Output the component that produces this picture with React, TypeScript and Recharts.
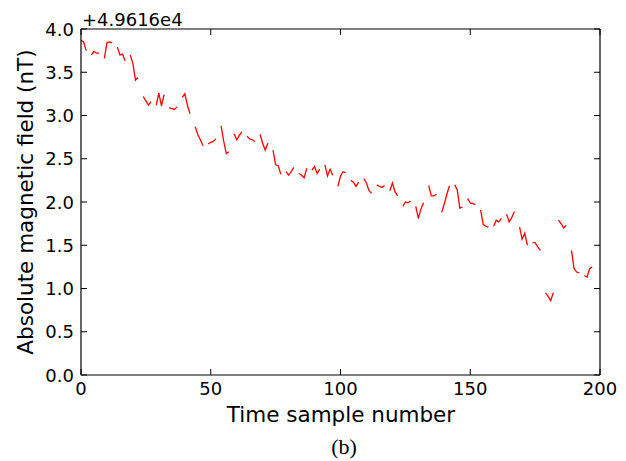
import React from "react";
import { LineChart, Line, XAxis, YAxis } from "recharts";

// Absolute magnetic field offset (nT) from 4.9616e4, per time sample; null = missing sample
const fieldOffset: (number | null)[] = [
  3.87, 3.85, 3.75, null, 3.70, 3.74, 3.72, 3.72, null, 3.66,
  3.84, 3.85, 3.84, null, 3.79, 3.70, 3.71, 3.63, null, 3.70,
  3.60, 3.41, 3.44, null, 3.22, 3.17, 3.12, 3.16, null, 3.12,
  3.26, 3.11, 3.24, null, 3.09, 3.08, 3.07, 3.10, null, 3.21,
  3.25, 3.12, 3.02, null, 2.87, 2.78, 2.72, 2.65, null, 2.67,
  2.69, 2.70, 2.73, null, 2.88, 2.70, 2.56, 2.58, null, 2.79,
  2.72, 2.77, 2.81, null, 2.76, 2.73, 2.72, 2.70, null, 2.78,
  2.68, 2.60, 2.68, null, 2.60, 2.43, 2.42, 2.32, null, 2.35,
  2.31, 2.35, 2.40, null, 2.33, 2.31, 2.28, 2.39, null, 2.37,
  2.41, 2.33, 2.38, null, 2.43, 2.30, 2.38, 2.31, null, 2.18,
  2.30, 2.35, 2.34, null, 2.25, 2.23, 2.18, 2.23, null, 2.27,
  2.22, 2.13, 2.10, null, 2.20, 2.18, 2.17, 2.19, null, 2.13,
  2.22, 2.12, 2.07, null, 1.95, 2.00, 1.99, 2.01, null, 1.95,
  1.81, 1.92, 1.99, null, 2.19, 2.07, 2.07, 2.09, null, 1.88,
  1.98, 2.09, 2.19, null, 2.20, 2.14, 1.93, 1.94, null, 2.04,
  1.99, 1.98, 1.97, null, 1.91, 1.74, 1.72, 1.71, null, 1.72,
  1.79, 1.77, 1.81, null, 1.86, 1.77, 1.82, 1.89, null, 1.71,
  1.57, 1.64, 1.50, null, 1.53, 1.53, 1.48, 1.44, null, 0.95,
  0.91, 0.86, 0.95, null, 1.79, 1.75, 1.70, 1.73, null, 1.44,
  1.23, 1.19, 1.18, null, 1.15, 1.13, 1.23, 1.25, null, null,
];

const xTicks = [0, 50, 100, 150, 200];
const yTicks = [0, 0.5, 1.0, 1.5, 2.0, 2.5, 3.0, 3.5, 4.0];
const offsetLabel = "+4.9616e4";
const xTitle = "Time sample number";
const yTitle = "Absolute magnetic field (nT)";
const caption = "(b)";

const data = fieldOffset.map((v, i) => ({ t: i, v }));

const FONT = "'DejaVu Sans', sans-serif";
const TICK_LEN = 6;

const BottomTick = (props: any) => {
  const { x, y, payload } = props;
  return (
    <g>
      <line x1={x} x2={x} y1={y} y2={y - TICK_LEN} stroke="#000" strokeWidth={1} />
      <text x={x} y={y + 20} textAnchor="middle" fontSize={18} fontFamily={FONT} fill="#000">
        {payload.value}
      </text>
    </g>
  );
};

const TopTick = (props: any) => {
  const { x, y } = props;
  return <line x1={x} x2={x} y1={y} y2={y + TICK_LEN} stroke="#000" strokeWidth={1} />;
};

const LeftTick = (props: any) => {
  const { x, y, payload } = props;
  return (
    <g>
      <line x1={x} x2={x + TICK_LEN} y1={y} y2={y} stroke="#000" strokeWidth={1} />
      <text x={x - 7} y={y} textAnchor="end" dominantBaseline="central" fontSize={18} fontFamily={FONT} fill="#000">
        {Number(payload.value).toFixed(1)}
      </text>
    </g>
  );
};

const RightTick = (props: any) => {
  const { x, y } = props;
  return <line x1={x} x2={x - TICK_LEN} y1={y} y2={y} stroke="#000" strokeWidth={1} />;
};

export default function App() {
  return (
    <div style={{ position: "absolute", left: 0, top: 0, width: 626, height: 461, background: "#fff" }}>
      <LineChart width={626} height={461} data={data} margin={{ top: 0, right: 0, bottom: 0, left: 0 }}>
        <XAxis
          xAxisId="bottom"
          dataKey="t"
          type="number"
          domain={[0, 200]}
          ticks={xTicks}
          orientation="bottom"
          height={86}
          tickSize={0}
          tickMargin={0}
          tickLine={false}
          axisLine={{ stroke: "#000", strokeWidth: 1.2 }}
          tick={<BottomTick />}
          interval={0}
          allowDataOverflow
        />
        <XAxis
          xAxisId="top"
          dataKey="t"
          type="number"
          domain={[0, 200]}
          ticks={xTicks}
          orientation="top"
          height={29}
          tickSize={0}
          tickMargin={0}
          tickLine={false}
          axisLine={{ stroke: "#000", strokeWidth: 1.2 }}
          tick={<TopTick />}
          interval={0}
          allowDataOverflow
        />
        <YAxis
          yAxisId="left"
          type="number"
          domain={[0, 4]}
          ticks={yTicks}
          orientation="left"
          width={81}
          tickSize={0}
          tickMargin={0}
          tickLine={false}
          axisLine={{ stroke: "#000", strokeWidth: 1.2 }}
          tick={<LeftTick />}
          interval={0}
          allowDataOverflow
        />
        <YAxis
          yAxisId="right"
          type="number"
          domain={[0, 4]}
          ticks={yTicks}
          orientation="right"
          width={26}
          tickSize={0}
          tickMargin={0}
          tickLine={false}
          axisLine={{ stroke: "#000", strokeWidth: 1.2 }}
          tick={<RightTick />}
          interval={0}
          allowDataOverflow
        />
        <Line
          xAxisId="bottom"
          yAxisId="left"
          type="linear"
          dataKey="v"
          stroke="#ff0000"
          strokeWidth={1.3}
          dot={false}
          activeDot={false}
          connectNulls={false}
          isAnimationActive={false}
        />
      </LineChart>
      <svg
        width={626}
        height={461}
        style={{ position: "absolute", left: 0, top: 0, pointerEvents: "none" }}
      >
        <text x={82} y={25.5} fontSize={18} fontFamily={FONT} fill="#000">
          {offsetLabel}
        </text>
        <text x={341} y={422} textAnchor="middle" fontSize={21.5} fontFamily={FONT} fill="#000">
          {xTitle}
        </text>
        <text
          transform="translate(33,202) rotate(-90)"
          textAnchor="middle"
          fontSize={21.5}
          fontFamily={FONT}
          fill="#000"
        >
          {yTitle}
        </text>
        <text x={344} y={454} textAnchor="middle" fontSize={22} fontFamily="'Liberation Serif', 'Times New Roman', serif" fill="#000">
          {caption}
        </text>
      </svg>
    </div>
  );
}
